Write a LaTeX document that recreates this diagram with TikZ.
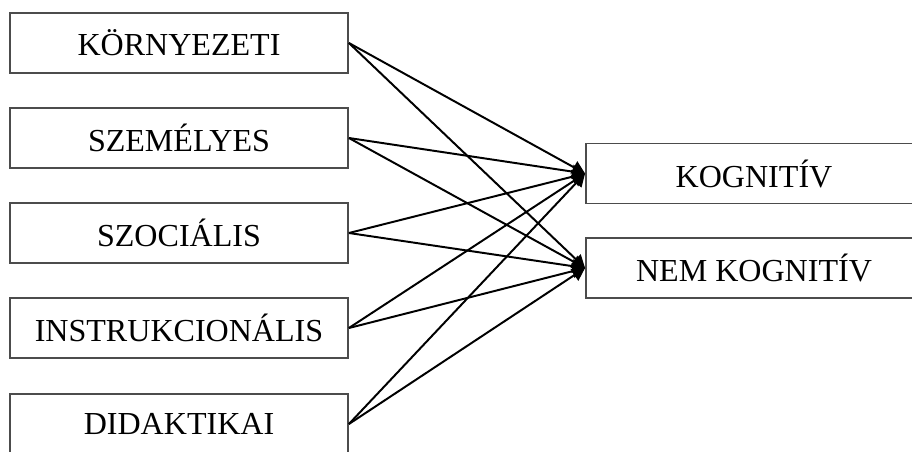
\documentclass[tikz,border=0pt]{standalone}
\usepackage{fontspec}
\setmainfont{Liberation Serif}
\usepackage{tikz}
\usetikzlibrary{arrows.meta, positioning}
\tikzset{
  factor/.style ={draw=black!70, rectangle, minimum width=8.45cm, minimum height=1.5cm, inner sep=0pt, line width=1.3pt, font=\fontsize{22.8}{27}\selectfont},
  outcome/.style={draw=black!70, rectangle, minimum width=8.6cm, minimum height=1.5cm, inner sep=0pt, line width=1.3pt, font=\fontsize{22.8}{27}\selectfont},
  link/.style   ={-{Triangle[length=3.2mm, width=3.4mm]}, line width=1.4pt},
}
\begin{document}
\begin{tikzpicture}
  \useasboundingbox (0,0) rectangle (22.8,-11.275);
  \clip (0,0) rectangle (22.8,-11.275);
  % left column
  \node[factor] (kornyezeti)      at (4.475,-1.075) {KÖRNYEZETI};
  \node[factor] (szemelyes)       at (4.475,-3.45)  {SZEMÉLYES};
  \node[factor] (szocialis)       at (4.475,-5.825) {SZOCIÁLIS};
  \node[factor] (instrukcionalis) at (4.475,-8.2)   {INSTRUKCIONÁLIS};
  \node[factor] (didaktikai)      at (4.475,-10.6)  {DIDAKTIKAI};
  % right column
  \node[outcome] (kognitiv)    at (18.95,-4.3375) {\hspace*{-0.2cm}KOGNITÍV};
  \node[outcome] (nemkognitiv) at (18.95,-6.7)    {\hspace*{-0.2cm}NEM KOGNITÍV};
  \foreach \f in {kornyezeti, szemelyes, szocialis, instrukcionalis, didaktikai} {
    \draw[link] (\f.east) -- (kognitiv.west);
    \draw[link] (\f.east) -- (nemkognitiv.west);
  }
\end{tikzpicture}
\end{document}
